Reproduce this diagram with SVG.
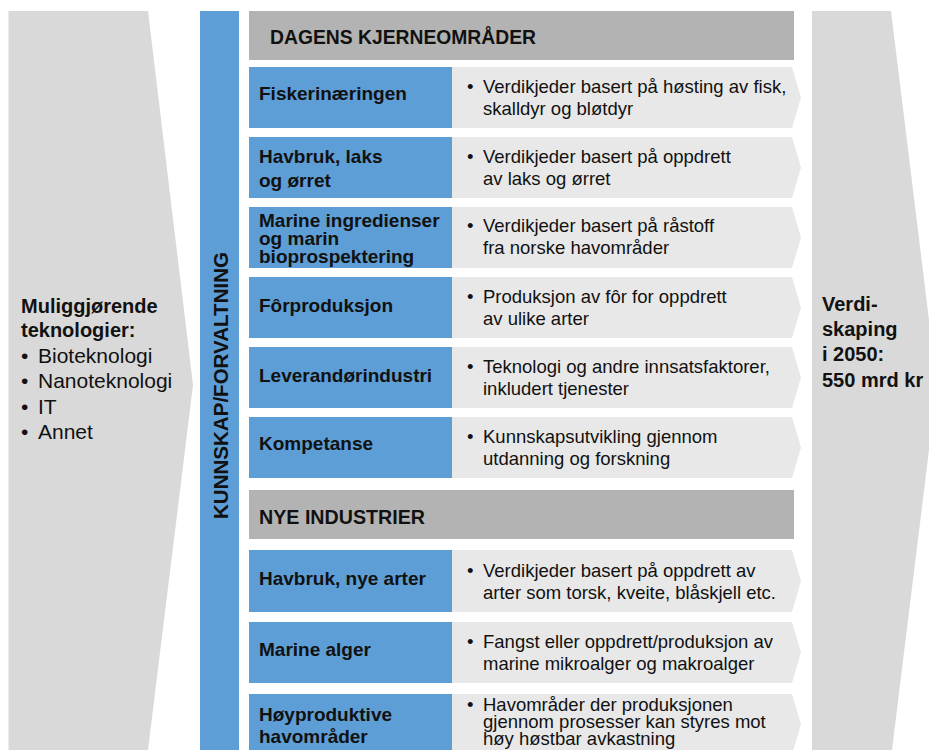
<svg xmlns="http://www.w3.org/2000/svg" width="929" height="750" viewBox="0 0 929 750">
<style>
.side{fill:#d9d9d9}
.bar{fill:#5e9ed6}
.hdr{fill:#b3b3b3}
.lab{fill:#5e9ed6}
.chev{fill:#e8e8e8}
text{font-family:"Liberation Sans",Arial,sans-serif;fill:#111}
.b{font-weight:bold;font-size:19px}
.h{font-weight:bold;font-size:20px}
.d{font-size:18.5px}
.l{font-size:21px}
.s{font-weight:bold;font-size:20px}
</style>
<rect width="929" height="750" fill="#fff"/>
<g id="enablers">
<polygon class="side" points="8.5,11 148,11 193,385 148,750 8.5,750"/>
<text class="s" x="21" y="313">Muliggjørende</text>
<text class="s" x="21" y="337">teknologier:</text>
<text class="l" y="363"><tspan x="21">•</tspan><tspan x="38">Bioteknologi</tspan></text>
<text class="l" y="388"><tspan x="21">•</tspan><tspan x="38">Nanoteknologi</tspan></text>
<text class="l" y="414"><tspan x="21">•</tspan><tspan x="38">IT</tspan></text>
<text class="l" y="439"><tspan x="21">•</tspan><tspan x="38">Annet</tspan></text>
</g>
<g id="knowledge">
<rect class="bar" x="200" y="11" width="39" height="739"/>
<text class="b" transform="translate(228,385.5) rotate(-90)" text-anchor="middle" textLength="267" lengthAdjust="spacingAndGlyphs" style="font-size:19.5px">KUNNSKAP/FORVALTNING</text>
</g>
<g id="value">
<polygon class="side" points="812,11 891,11 937,385 892,750 812,750"/>
<text class="s" x="822" y="311">Verdi-</text>
<text class="s" x="822" y="336">skaping</text>
<text class="s" x="822" y="361">i 2050:</text>
<text class="s" x="822" y="387">550 mrd kr</text>
</g>
<g id="header-core">
<rect class="hdr" x="249" y="11" width="545" height="49"/>
<text class="h" x="270" y="43.5" textLength="266" lengthAdjust="spacingAndGlyphs">DAGENS KJERNEOMRÅDER</text>
</g>
<g id="row-fiskeri">
<rect class="lab" x="249" y="67" width="203" height="61"/>
<path class="chev" d="M452 67H792L801 97.5L792 128H452Z"/>
<text class="b" x="259" y="100">Fiskerinæringen</text>
<text class="d" y="93"><tspan x="467">•</tspan><tspan x="483">Verdikjeder basert på høsting av fisk,</tspan></text>
<text class="d" x="483" y="115">skalldyr og bløtdyr</text>
</g>
<g id="row-havbruk">
<rect class="lab" x="249" y="137" width="203" height="61"/>
<path class="chev" d="M452 137H792L801 167.5L792 198H452Z"/>
<text class="b" x="259" y="163">Havbruk, laks</text>
<text class="b" x="259" y="187">og ørret</text>
<text class="d" y="163"><tspan x="467">•</tspan><tspan x="483">Verdikjeder basert på oppdrett</tspan></text>
<text class="d" x="483" y="185">av laks og ørret</text>
</g>
<g id="row-ingredienser">
<rect class="lab" x="249" y="207" width="203" height="61"/>
<path class="chev" d="M452 207H792L801 237.5L792 268H452Z"/>
<text class="b" x="259" y="226.5">Marine ingredienser</text>
<text class="b" x="259" y="244.5">og marin</text>
<text class="b" x="259" y="262.5">bioprospektering</text>
<text class="d" y="232"><tspan x="467">•</tspan><tspan x="483">Verdikjeder basert på råstoff</tspan></text>
<text class="d" x="483" y="254">fra norske havområder</text>
</g>
<g id="row-for">
<rect class="lab" x="249" y="277" width="203" height="61"/>
<path class="chev" d="M452 277H792L801 307.5L792 338H452Z"/>
<text class="b" x="259" y="312">Fôrproduksjon</text>
<text class="d" y="303"><tspan x="467">•</tspan><tspan x="483">Produksjon av fôr for oppdrett</tspan></text>
<text class="d" x="483" y="325">av ulike arter</text>
</g>
<g id="row-leverandor">
<rect class="lab" x="249" y="347" width="203" height="61"/>
<path class="chev" d="M452 347H792L801 377.5L792 408H452Z"/>
<text class="b" x="259" y="382">Leverandørindustri</text>
<text class="d" y="373"><tspan x="467">•</tspan><tspan x="483">Teknologi og andre innsatsfaktorer,</tspan></text>
<text class="d" x="483" y="395">inkludert tjenester</text>
</g>
<g id="row-kompetanse">
<rect class="lab" x="249" y="417" width="203" height="61"/>
<path class="chev" d="M452 417H792L801 447.5L792 478H452Z"/>
<text class="b" x="259" y="450">Kompetanse</text>
<text class="d" y="443"><tspan x="467">•</tspan><tspan x="483">Kunnskapsutvikling gjennom</tspan></text>
<text class="d" x="483" y="465">utdanning og forskning</text>
</g>
<g id="header-new">
<rect class="hdr" x="249" y="490" width="545" height="49"/>
<text class="h" x="259" y="524" textLength="166" lengthAdjust="spacingAndGlyphs">NYE INDUSTRIER</text>
</g>
<g id="row-nye-arter">
<rect class="lab" x="249" y="550" width="203" height="62"/>
<path class="chev" d="M452 550H792L801 581L792 612H452Z"/>
<text class="b" x="259" y="585">Havbruk, nye arter</text>
<text class="d" y="577"><tspan x="467">•</tspan><tspan x="483">Verdikjeder basert på oppdrett av</tspan></text>
<text class="d" x="483" y="599">arter som torsk, kveite, blåskjell etc.</text>
</g>
<g id="row-alger">
<rect class="lab" x="249" y="622" width="203" height="61"/>
<path class="chev" d="M452 622H792L801 652.5L792 683H452Z"/>
<text class="b" x="259" y="656">Marine alger</text>
<text class="d" y="648"><tspan x="467">•</tspan><tspan x="483">Fangst eller oppdrett/produksjon av</tspan></text>
<text class="d" x="483" y="670">marine mikroalger og makroalger</text>
</g>
<g id="row-hoyproduktive">
<rect class="lab" x="249" y="694" width="203" height="61"/>
<path class="chev" d="M452 694H792L801 724.5L792 755H452Z"/>
<text class="b" x="259" y="721">Høyproduktive</text>
<text class="b" x="259" y="743">havområder</text>
<text class="d" y="711"><tspan x="467">•</tspan><tspan x="483">Havområder der produksjonen</tspan></text>
<text class="d" x="483" y="728">gjennom prosesser kan styres mot</text>
<text class="d" x="483" y="745">høy høstbar avkastning</text>
</g>
</svg>
